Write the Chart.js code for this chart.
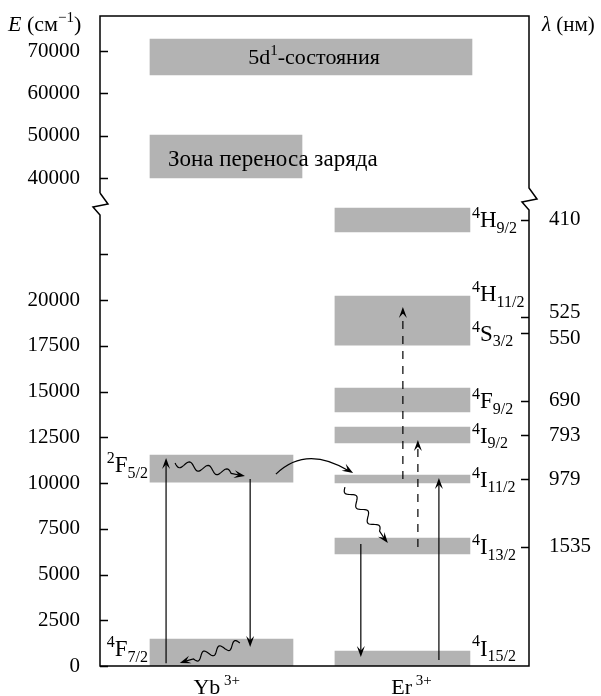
<!DOCTYPE html>
<html>
<head>
<meta charset="utf-8">
<script src="https://cdn.jsdelivr.net/npm/chart.js@4"></script>
<style>
  body { margin: 0; background: #fff; }
</style>
</head>
<body>
<canvas id="levels" width="601" height="696"></canvas>
<script>
// energy levels in cm^-1
const ybNames = ['^{2}F_{5/2}', '^{4}F_{7/2}'];
const ybLow = [10050, 0];
const ybHigh = [11530, 1475];

const erLow = [23720, 17540, 13880, 12190, 10000, 6120, 0];
const erHigh = [25030, 20220, 15190, 13060, 10440, 6995, 820];

const erNames = ['^{4}H_{9/2}', '^{4}H_{11/2}', '^{4}S_{3/2}', '^{4}F_{9/2}', '^{4}I_{9/2}', '^{4}I_{11/2}', '^{4}I_{13/2}', '^{4}I_{15/2}'];
const erLevelE = [24390, 19050, 18180, 14490, 12610, 10210, 6515, 0];

// right axis: wavelengths in nm, placed at 1e7/lambda
const lambdaTicks = [410, 525, 550, 690, 793, 979, 1535];

const bandNames = ['5d^{1}-состояния', 'Зона переноса заряда'];
const bandLow = [64350, 40000];
const bandHigh = [72860, 50170];

const lowTicks = [0, 2500, 5000, 7500, 10000, 12500, 15000, 17500, 20000, 22500];
const highTicks = [40000, 50000, 60000, 70000];

const ions = ['Yb', 'Er'];

// transitions (cm^-1)
const radFrom = [150, 10220, 6670, 330];    // solid arrows
const radTo = [11370, 1040, 490, 10270];
const upFrom = [10220, 6500];               // dashed, upconversion
const upTo = [19620, 12350];
const relaxFrom = [11090, 9780, 1260];      // wavy, nonradiative
const relaxTo = [10380, 6720, 160];
const transferFrom = 10490;                 // Yb -> Er transfer
const transferTo = 10550;

// ---- layout (x scale runs 0..100 across the plot) ----
const colX = { yb: 28.32, er: 70.5, d5: 49.18, ct: 29.37 };
const colW = { yb: 143, er: 135, d5: 322, ct: 152 };
const radX = [15.4, 35.0, 60.8, 79.0];
const upX = [70.6, 74.1];
const relaxX = [[17.5, 33.8], [57.1, 67.1], [32.6, 18.6]];
const transferX = [41.0, 59.0];
const transferCtrl = [48.0, 12100];
const erLabelDy = [0, -24, 0, 0, 0, 0, 0, -18];
const ionLabelX = [27.2, 72.6];

const gray = '#b3b3b3';
const serif = "'Liberation Serif', 'DejaVu Serif', serif";

function bars(xc, lo, hi, w, axis) {
  return {
    data: lo.map((v, i) => ({ x: xc, y: [v, hi[i]] })),
    barThickness: w,
    grouped: false,
    yAxisID: axis,
    backgroundColor: gray,
    borderWidth: 0
  };
}

// text with ^{sup}, _{sub} and ~{italic}
function rich(ctx, str, x, y, size, align) {
  const parts = [];
  str.replace(/\^\{([^}]*)\}|_\{([^}]*)\}|~\{([^}]*)\}|([^^_~]+)/g, (m, sup, sub, it, txt) => {
    if (sup !== undefined) parts.push({ t: sup, s: 0.68, dy: -0.4 });
    else if (sub !== undefined) parts.push({ t: sub, s: 0.68, dy: 0.24 });
    else if (it !== undefined) parts.push({ t: it, s: 1, dy: 0, it: true });
    else parts.push({ t: txt, s: 1, dy: 0 });
  });
  let w = 0;
  parts.forEach(p => {
    ctx.font = (p.it ? 'italic ' : '') + Math.round(size * p.s) + 'px ' + serif;
    p.w = ctx.measureText(p.t).width;
    w += p.w;
  });
  let cx = align === 'right' ? x - w : align === 'center' ? x - w / 2 : x;
  const base = y + size * 0.33;
  ctx.textAlign = 'left';
  ctx.textBaseline = 'alphabetic';
  parts.forEach(p => {
    ctx.font = (p.it ? 'italic ' : '') + Math.round(size * p.s) + 'px ' + serif;
    ctx.fillText(p.t, cx, base + p.dy * size);
    cx += p.w;
  });
}

function head(ctx, x, y, ang) {
  const len = 11, half = 4;
  const c = Math.cos(ang), s = Math.sin(ang);
  ctx.beginPath();
  ctx.moveTo(x, y);
  ctx.lineTo(x - len * c + half * s, y - len * s - half * c);
  ctx.lineTo(x - 0.6 * len * c, y - 0.6 * len * s);
  ctx.lineTo(x - len * c - half * s, y - len * s + half * c);
  ctx.closePath();
  ctx.fill();
}

function straight(ctx, x0, y0, x1, y1, dash) {
  const ang = Math.atan2(y1 - y0, x1 - x0);
  ctx.setLineDash(dash || []);
  ctx.beginPath();
  ctx.moveTo(x0, y0);
  ctx.lineTo(x1 - 6 * Math.cos(ang), y1 - 6 * Math.sin(ang));
  ctx.stroke();
  ctx.setLineDash([]);
  head(ctx, x1, y1, ang);
}

function wavy(ctx, x0, y0, x1, y1, n, amp) {
  const dx = x1 - x0, dy = y1 - y0, L = Math.hypot(dx, dy);
  const ux = dx / L, uy = dy / L, nx = -uy, ny = ux;
  const wl = L - 14;
  ctx.beginPath();
  ctx.moveTo(x0, y0);
  for (let s = 1; s <= wl; s++) {
    const off = amp * Math.sin(2 * Math.PI * n * s / wl);
    ctx.lineTo(x0 + ux * s + nx * off, y0 + uy * s + ny * off);
  }
  ctx.lineTo(x1 - ux * 6, y1 - uy * 6);
  ctx.stroke();
  head(ctx, x1, y1, Math.atan2(dy, dx));
}

const deco = {
  id: 'deco',
  afterDatasetsDraw(chart) {
    const ctx = chart.ctx, xs = chart.scales.x, ys = chart.scales.yBot;
    const px = v => xs.getPixelForValue(v), py = v => ys.getPixelForValue(v);
    ctx.save();
    ctx.strokeStyle = '#000';
    ctx.fillStyle = '#000';
    ctx.lineWidth = 1.2;
    radFrom.forEach((e, i) => straight(ctx, px(radX[i]), py(e), px(radX[i]), py(radTo[i])));
    upFrom.forEach((e, i) => straight(ctx, px(upX[i]), py(e), px(upX[i]), py(upTo[i]), [8, 7]));
    relaxFrom.forEach((e, i) => wavy(ctx, px(relaxX[i][0]), py(e), px(relaxX[i][1]), py(relaxTo[i]), 3, 3.8));
    // curved transfer arrow
    const x0 = px(transferX[0]), y0 = py(transferFrom);
    const x1 = px(transferX[1]), y1 = py(transferTo);
    const cx = px(transferCtrl[0]), cy = py(transferCtrl[1]);
    ctx.beginPath();
    ctx.moveTo(x0, y0);
    ctx.quadraticCurveTo(cx, cy, x1 - 4, y1 - 2);
    ctx.stroke();
    head(ctx, x1, y1, Math.atan2(y1 - cy, x1 - cx));
    ctx.restore();
  },
  afterDraw(chart) {
    const ctx = chart.ctx, a = chart.chartArea;
    const xs = chart.scales.x, ys = chart.scales.yBot, yt = chart.scales.yTop, yr = chart.scales.yR;
    const L = a.left, R = a.right, T = a.top, B = a.bottom, yb = yt.bottom;
    ctx.save();
    ctx.strokeStyle = '#000';
    ctx.fillStyle = '#000';
    ctx.lineWidth = 1.5;
    // frame with broken axes
    ctx.beginPath();
    ctx.moveTo(L, yb - 11);
    ctx.lineTo(L, T);
    ctx.lineTo(R, T);
    ctx.lineTo(R, yb - 16);
    ctx.lineTo(R + 8, yb - 5);
    ctx.lineTo(R - 7, yb - 2);
    ctx.lineTo(R, yb + 6);
    ctx.lineTo(R, B);
    ctx.lineTo(L, B);
    ctx.lineTo(L, yb + 11);
    ctx.lineTo(L - 7, yb + 3);
    ctx.lineTo(L + 8, yb);
    ctx.lineTo(L, yb - 11);
    ctx.stroke();
    // inward tick marks
    ctx.beginPath();
    [yt, ys].forEach(s => s.ticks.forEach(t => {
      const y = Math.round(s.getPixelForValue(t.value)) + 0.5;
      ctx.moveTo(L, y); ctx.lineTo(L + 8, y);
    }));
    yr.ticks.forEach(t => {
      const y = Math.round(yr.getPixelForValue(t.value)) + 0.5;
      ctx.moveTo(R, y); ctx.lineTo(R - 8, y);
    });
    ctx.stroke();

    // level names
    const ybLeft = xs.getPixelForValue(colX.yb) - colW.yb / 2;
    ybNames.forEach((n, i) => {
      const y = ys.getPixelForValue((ybLow[i] + ybHigh[i]) / 2) - 4;
      rich(ctx, n, ybLeft - 2, y, 23, 'right');
    });
    const erRight = xs.getPixelForValue(colX.er) + colW.er / 2;
    erNames.forEach((n, i) => {
      rich(ctx, n, erRight + 2, ys.getPixelForValue(erLevelE[i]) + erLabelDy[i], 23, 'left');
    });
    // band texts
    rich(ctx, bandNames[0], xs.getPixelForValue(colX.d5) + 3, yt.getPixelForValue((bandLow[0] + bandHigh[0]) / 2), 22, 'center');
    rich(ctx, bandNames[1], xs.getPixelForValue(colX.ct) - colW.ct / 2 + 18, yt.getPixelForValue((bandLow[1] + bandHigh[1]) / 2) + 2, 22.5, 'left');
    // axis titles
    rich(ctx, '~{E} (см^{−1})', 8, 24, 22, 'left');
    rich(ctx, '~{λ} (нм)', 542, 24, 20.5, 'left');
    // ion names
    ions.forEach((n, i) => rich(ctx, n + '^{ 3+}', xs.getPixelForValue(ionLabelX[i]), 687, 22, 'center'));
    ctx.restore();
  }
};

const tickFont = { family: serif, size: 21 };

// fixed box sizes, no extra room for half tick labels
function fixWidth(w) {
  return s => { s.width = w; s.paddingTop = 0; s.paddingBottom = 0; };
}

new Chart('levels', {
  type: 'bar',
  data: {
    datasets: [
      bars(colX.yb, ybLow, ybHigh, colW.yb, 'yBot'),
      bars(colX.er, erLow, erHigh, colW.er, 'yBot'),
      bars(colX.d5, bandLow.slice(0, 1), bandHigh.slice(0, 1), colW.d5, 'yTop'),
      bars(colX.ct, bandLow.slice(1), bandHigh.slice(1), colW.ct, 'yTop')
    ]
  },
  options: {
    responsive: false,
    animation: false,
    layout: { padding: { top: 16, left: 0, right: 0, bottom: 0 } },
    plugins: { legend: { display: false }, tooltip: { enabled: false } },
    scales: {
      x: {
        type: 'linear', min: 0, max: 100, offset: false,
        grid: { display: false }, border: { display: false }, ticks: { display: false },
        afterFit: s => { s.height = 30; s.paddingLeft = 0; s.paddingRight = 0; }
      },
      yTop: {
        type: 'linear', position: 'left', stack: 'e', stackWeight: 188, weight: 1,
        min: 33850, max: 78300,
        grid: { display: false }, border: { display: false },
        ticks: { color: '#000', font: tickFont, padding: 12, autoSkip: false, callback: v => String(v) },
        afterBuildTicks: s => { s.ticks = highTicks.map(v => ({ value: v })); },
        afterFit: fixWidth(100)
      },
      yBot: {
        type: 'linear', position: 'left', stack: 'e', stackWeight: 462, weight: 0,
        min: 0, max: 25250,
        grid: { display: false }, border: { display: false },
        ticks: { color: '#000', font: tickFont, padding: 12, autoSkip: false, callback: v => (v > 20000 ? '' : String(v)) },
        afterBuildTicks: s => { s.ticks = lowTicks.map(v => ({ value: v })); },
        afterFit: fixWidth(100)
      },
      yRTop: {
        type: 'linear', position: 'right', stack: 'e', stackWeight: 188, weight: 0,
        min: 33850, max: 78300,
        grid: { display: false }, border: { display: false }, ticks: { display: false },
        afterFit: fixWidth(72)
      },
      yR: {
        type: 'linear', position: 'right', stack: 'e', stackWeight: 462, weight: 1,
        min: 0, max: 25250,
        grid: { display: false }, border: { display: false },
        ticks: {
          color: '#000', padding: 12, autoSkip: false,
          font: { family: serif, size: 21, lineHeight: 0.5 },
          // nudge the two crowded labels apart
          callback: (v, i) => {
            const l = String(lambdaTicks[i]);
            if (lambdaTicks[i] === 525) return [l, ''];
            if (lambdaTicks[i] === 550) return ['', l];
            return l;
          }
        },
        afterBuildTicks: s => { s.ticks = lambdaTicks.map(l => ({ value: 1e7 / l })); },
        afterFit: fixWidth(72)
      }
    }
  },
  plugins: [deco]
});
</script>
</body>
</html>
